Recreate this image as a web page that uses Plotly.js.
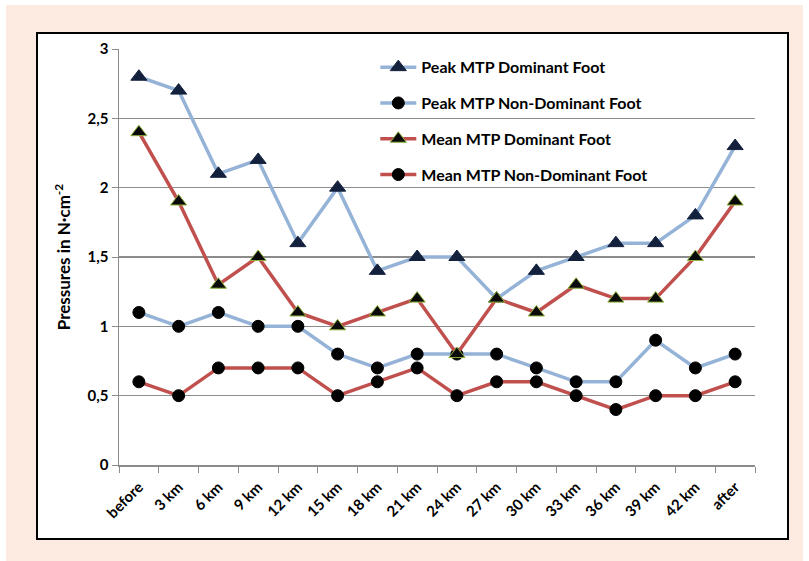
<!DOCTYPE html>
<html>
<head>
<meta charset="utf-8">
<script src="https://cdn.plot.ly/plotly-3.0.1.min.js"></script>
<style>
  html, body { margin: 0; padding: 0; background: #ffffff; width: 809px; height: 561px; overflow: hidden; }
  #peach { position: absolute; left: 6px; top: 5px; width: 797px; height: 556px; background: #fdebe1; }
  #frame { position: absolute; left: 36px; top: 32px; width: 749px; height: 504px; background: #ffffff; border: 2px solid #000000; }
  #chart { position: absolute; left: 0; top: 0; width: 809px; height: 561px; }
</style>
</head>
<body>
<div id="peach"></div>
<div id="frame"></div>
<div id="chart"></div>
<script>
const categories = ["before", "3 km", "6 km", "9 km", "12 km", "15 km", "18 km", "21 km", "24 km", "27 km", "30 km", "33 km", "36 km", "39 km", "42 km", "after"];
const peakDominant    = [2.8, 2.7, 2.1, 2.2, 1.6, 2.0, 1.4, 1.5, 1.5, 1.2, 1.4, 1.5, 1.6, 1.6, 1.8, 2.3];
const peakNonDominant = [1.1, 1.0, 1.1, 1.0, 1.0, 0.8, 0.7, 0.8, 0.8, 0.8, 0.7, 0.6, 0.6, 0.9, 0.7, 0.8];
const meanDominant    = [2.4, 1.9, 1.3, 1.5, 1.1, 1.0, 1.1, 1.2, 0.8, 1.2, 1.1, 1.3, 1.2, 1.2, 1.5, 1.9];
const meanNonDominant = [0.6, 0.5, 0.7, 0.7, 0.7, 0.5, 0.6, 0.7, 0.5, 0.6, 0.6, 0.5, 0.4, 0.5, 0.5, 0.6];
const seriesNames = ["Peak MTP Dominant Foot", "Peak MTP Non-Dominant Foot", "Mean MTP Dominant Foot", "Mean MTP Non-Dominant Foot"];
const yTickVals = [0, 0.5, 1, 1.5, 2, 2.5, 3];
const yTickText = ["0", "0,5", "1", "1,5", "2", "2,5", "3"];

const blue = "#95b3d7";
const red = "#c0504d";
const FONT = "Lato, 'Open Sans', sans-serif";

function trace(y, name, color, symbol, mcolor, mline, size, group) {
  return {
    x: categories, y: y, name: name, type: "scatter", mode: "lines+markers",
    legendgroup: group,
    line: { color: color, width: 3.5 },
    marker: { symbol: symbol, size: size, color: mcolor, line: { color: mline, width: 1 } }
  };
}

const data = [
  trace(peakDominant, seriesNames[0], blue, "triangle-up", "#14213d", "#14213d", 14, "a"),
  trace(peakNonDominant, seriesNames[1], blue, "circle", "#000000", "#000000", 12, "b"),
  trace(meanDominant, seriesNames[2], red, "triangle-up", "#0a0a0a", "#8db33a", 14, "c"),
  trace(meanNonDominant, seriesNames[3], red, "circle", "#000000", "#000000", 12, "d")
];

const layout = {
  width: 809, height: 561,
  paper_bgcolor: "rgba(0,0,0,0)",
  plot_bgcolor: "rgba(0,0,0,0)",
  margin: { l: 119, r: 54, t: 49, b: 96 },
  font: { family: FONT, color: "#000000", size: 14 },
  showlegend: true,
  legend: {
    x: 0.403, y: 0.997, xanchor: "left", yanchor: "top",
    bgcolor: "rgba(0,0,0,0)",
    font: { family: FONT, size: 16, color: "#000000", weight: "bold" },
    tracegroupgap: 12,
    itemwidth: 36
  },
  xaxis: {
    type: "category",
    range: [-0.5, 15.5],
    autorange: false,
    showgrid: false,
    showline: true, linecolor: "#8c8c8c", linewidth: 1.5,
    ticks: "outside", ticklen: 6, tickcolor: "#8c8c8c", tickson: "boundaries",
    tickangle: -45,
    ticklabelstandoff: 6,
    tickfont: { family: FONT, size: 15, weight: "bold" },
    zeroline: false,
    fixedrange: true
  },
  yaxis: {
    range: [0, 3],
    autorange: false,
    tickvals: yTickVals, ticktext: yTickText,
    showgrid: true, gridcolor: "#8c8c8c", gridwidth: 1.2,
    showline: true, linecolor: "#8c8c8c", linewidth: 1.5,
    ticks: "outside", ticklen: 6, tickcolor: "#8c8c8c",
    tickfont: { family: FONT, size: 15, weight: "bold" },
    zeroline: false,
    title: { text: "Pressures in N·cm<sup>-2</sup>", font: { family: FONT, size: 17, weight: "bold" }, standoff: 12 },
    fixedrange: true
  }
};

Plotly.newPlot("chart", data, layout, { displayModeBar: false, staticPlot: true });
</script>
</body>
</html>
